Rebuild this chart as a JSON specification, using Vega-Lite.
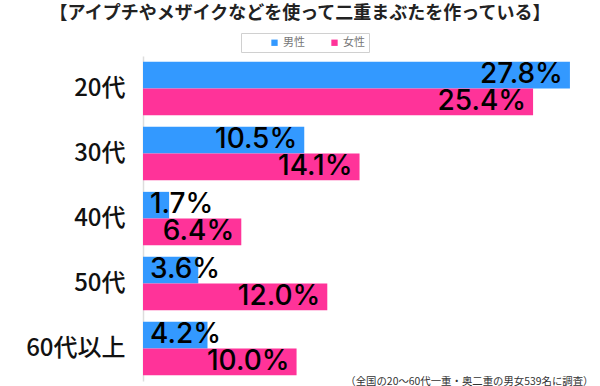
{
  "$schema": "https://vega.github.io/schema/vega-lite/v6.json",
  "width": 430,
  "height": 325,
  "autosize": {"type": "none"},
  "padding": {"left": 143, "top": 56, "right": 27, "bottom": 5},
  "background": "white",
  "title": {
    "text": "【アイプチやメザイクなどを使って二重まぶたを作っている】",
    "anchor": "middle",
    "frame": "group",
    "dx": -58,
    "fontSize": 18,
    "font": "Noto Sans CJK JP",
    "fontWeight": "bold",
    "color": "#222",
    "offset": 10
  },
  "data": {
    "values": [
      {"age": "20代", "gender": "男性", "value": 27.8, "label": "27.8%"},
      {"age": "20代", "gender": "女性", "value": 25.4, "label": "25.4%"},
      {"age": "30代", "gender": "男性", "value": 10.5, "label": "10.5%"},
      {"age": "30代", "gender": "女性", "value": 14.1, "label": "14.1%"},
      {"age": "40代", "gender": "男性", "value": 1.7, "label": "1.7%"},
      {"age": "40代", "gender": "女性", "value": 6.4, "label": "6.4%"},
      {"age": "50代", "gender": "男性", "value": 3.6, "label": "3.6%"},
      {"age": "50代", "gender": "女性", "value": 12.0, "label": "12.0%"},
      {"age": "60代以上", "gender": "男性", "value": 4.2, "label": "4.2%"},
      {"age": "60代以上", "gender": "女性", "value": 10.0, "label": "10.0%"}
    ]
  },
  "encoding": {
    "y": {
      "field": "age",
      "type": "nominal",
      "sort": ["20代", "30代", "40代", "50代", "60代以上"],
      "scale": {"paddingInner": 0.18, "paddingOuter": 0.09},
      "axis": {
        "title": null,
        "ticks": false,
        "labelFontSize": 24,
        "labelFont": "Noto Sans CJK JP",
        "labelFontWeight": 500,
        "labelColor": "#111",
        "labelPadding": 18,
        "domainColor": "#dddddd",
        "domainWidth": 1.5
      }
    },
    "yOffset": {
      "field": "gender",
      "type": "nominal",
      "sort": ["男性", "女性"],
      "scale": {"paddingInner": 0, "paddingOuter": 0}
    },
    "x": {
      "field": "value",
      "type": "quantitative",
      "scale": {"domain": [0, 28], "nice": false},
      "axis": {
        "title": "（全国の20〜60代一重・奥二重の男女539名に調査）",
        "labels": false,
        "ticks": false,
        "domain": false,
        "grid": false,
        "titleAnchor": "end",
        "titleAlign": "right",
        "titleX": 450,
        "titleY": 3,
        "titleBaseline": "alphabetic",
        "titleFontSize": 10.4,
        "titleFont": "Noto Sans CJK JP",
        "titleFontWeight": "normal",
        "titleColor": "#333"
      }
    }
  },
  "layer": [
    {
      "mark": {"type": "bar"},
      "encoding": {
        "color": {
          "field": "gender",
          "type": "nominal",
          "sort": ["男性", "女性"],
          "scale": {"domain": ["男性", "女性"], "range": ["#3399ff", "#ff3399"]},
          "legend": {
            "orient": "none",
            "legendX": 98,
            "legendY": -23,
            "direction": "horizontal",
            "title": null,
            "symbolType": "square",
            "symbolSize": 40,
            "symbolOffset": 24,
            "labelFontSize": 11,
            "labelFont": "Noto Sans CJK JP",
            "labelColor": "#777",
            "labelExpr": "datum.label == '女性' ? datum.label + '\u3000\u2002' : datum.label",
            "strokeColor": "#d0d0d0",
            "padding": 4,
            "columnPadding": 0,
            "labelOffset": 3
          }
        }
      }
    },
    {
      "transform": [{"filter": "datum.value >= 5.35"}],
      "mark": {
        "type": "text",
        "align": "right",
        "baseline": "middle",
        "dx": -7,
        "fontSize": 28,
        "font": "Inter",
        "fontWeight": 500,
        "color": "#000"
      },
      "encoding": {
        "text": {"field": "label", "type": "nominal"},
        "color": {"value": "#000"}
      }
    },
    {
      "transform": [{"filter": "datum.value < 5.35"}],
      "mark": {
        "type": "text",
        "align": "left",
        "baseline": "middle",
        "dx": 7,
        "fontSize": 28,
        "font": "Inter",
        "fontWeight": 500,
        "color": "#000"
      },
      "encoding": {
        "x": {"datum": 0},
        "text": {"field": "label", "type": "nominal"},
        "color": {"value": "#000"}
      }
    }
  ],
  "config": {"view": {"stroke": null}}
}
